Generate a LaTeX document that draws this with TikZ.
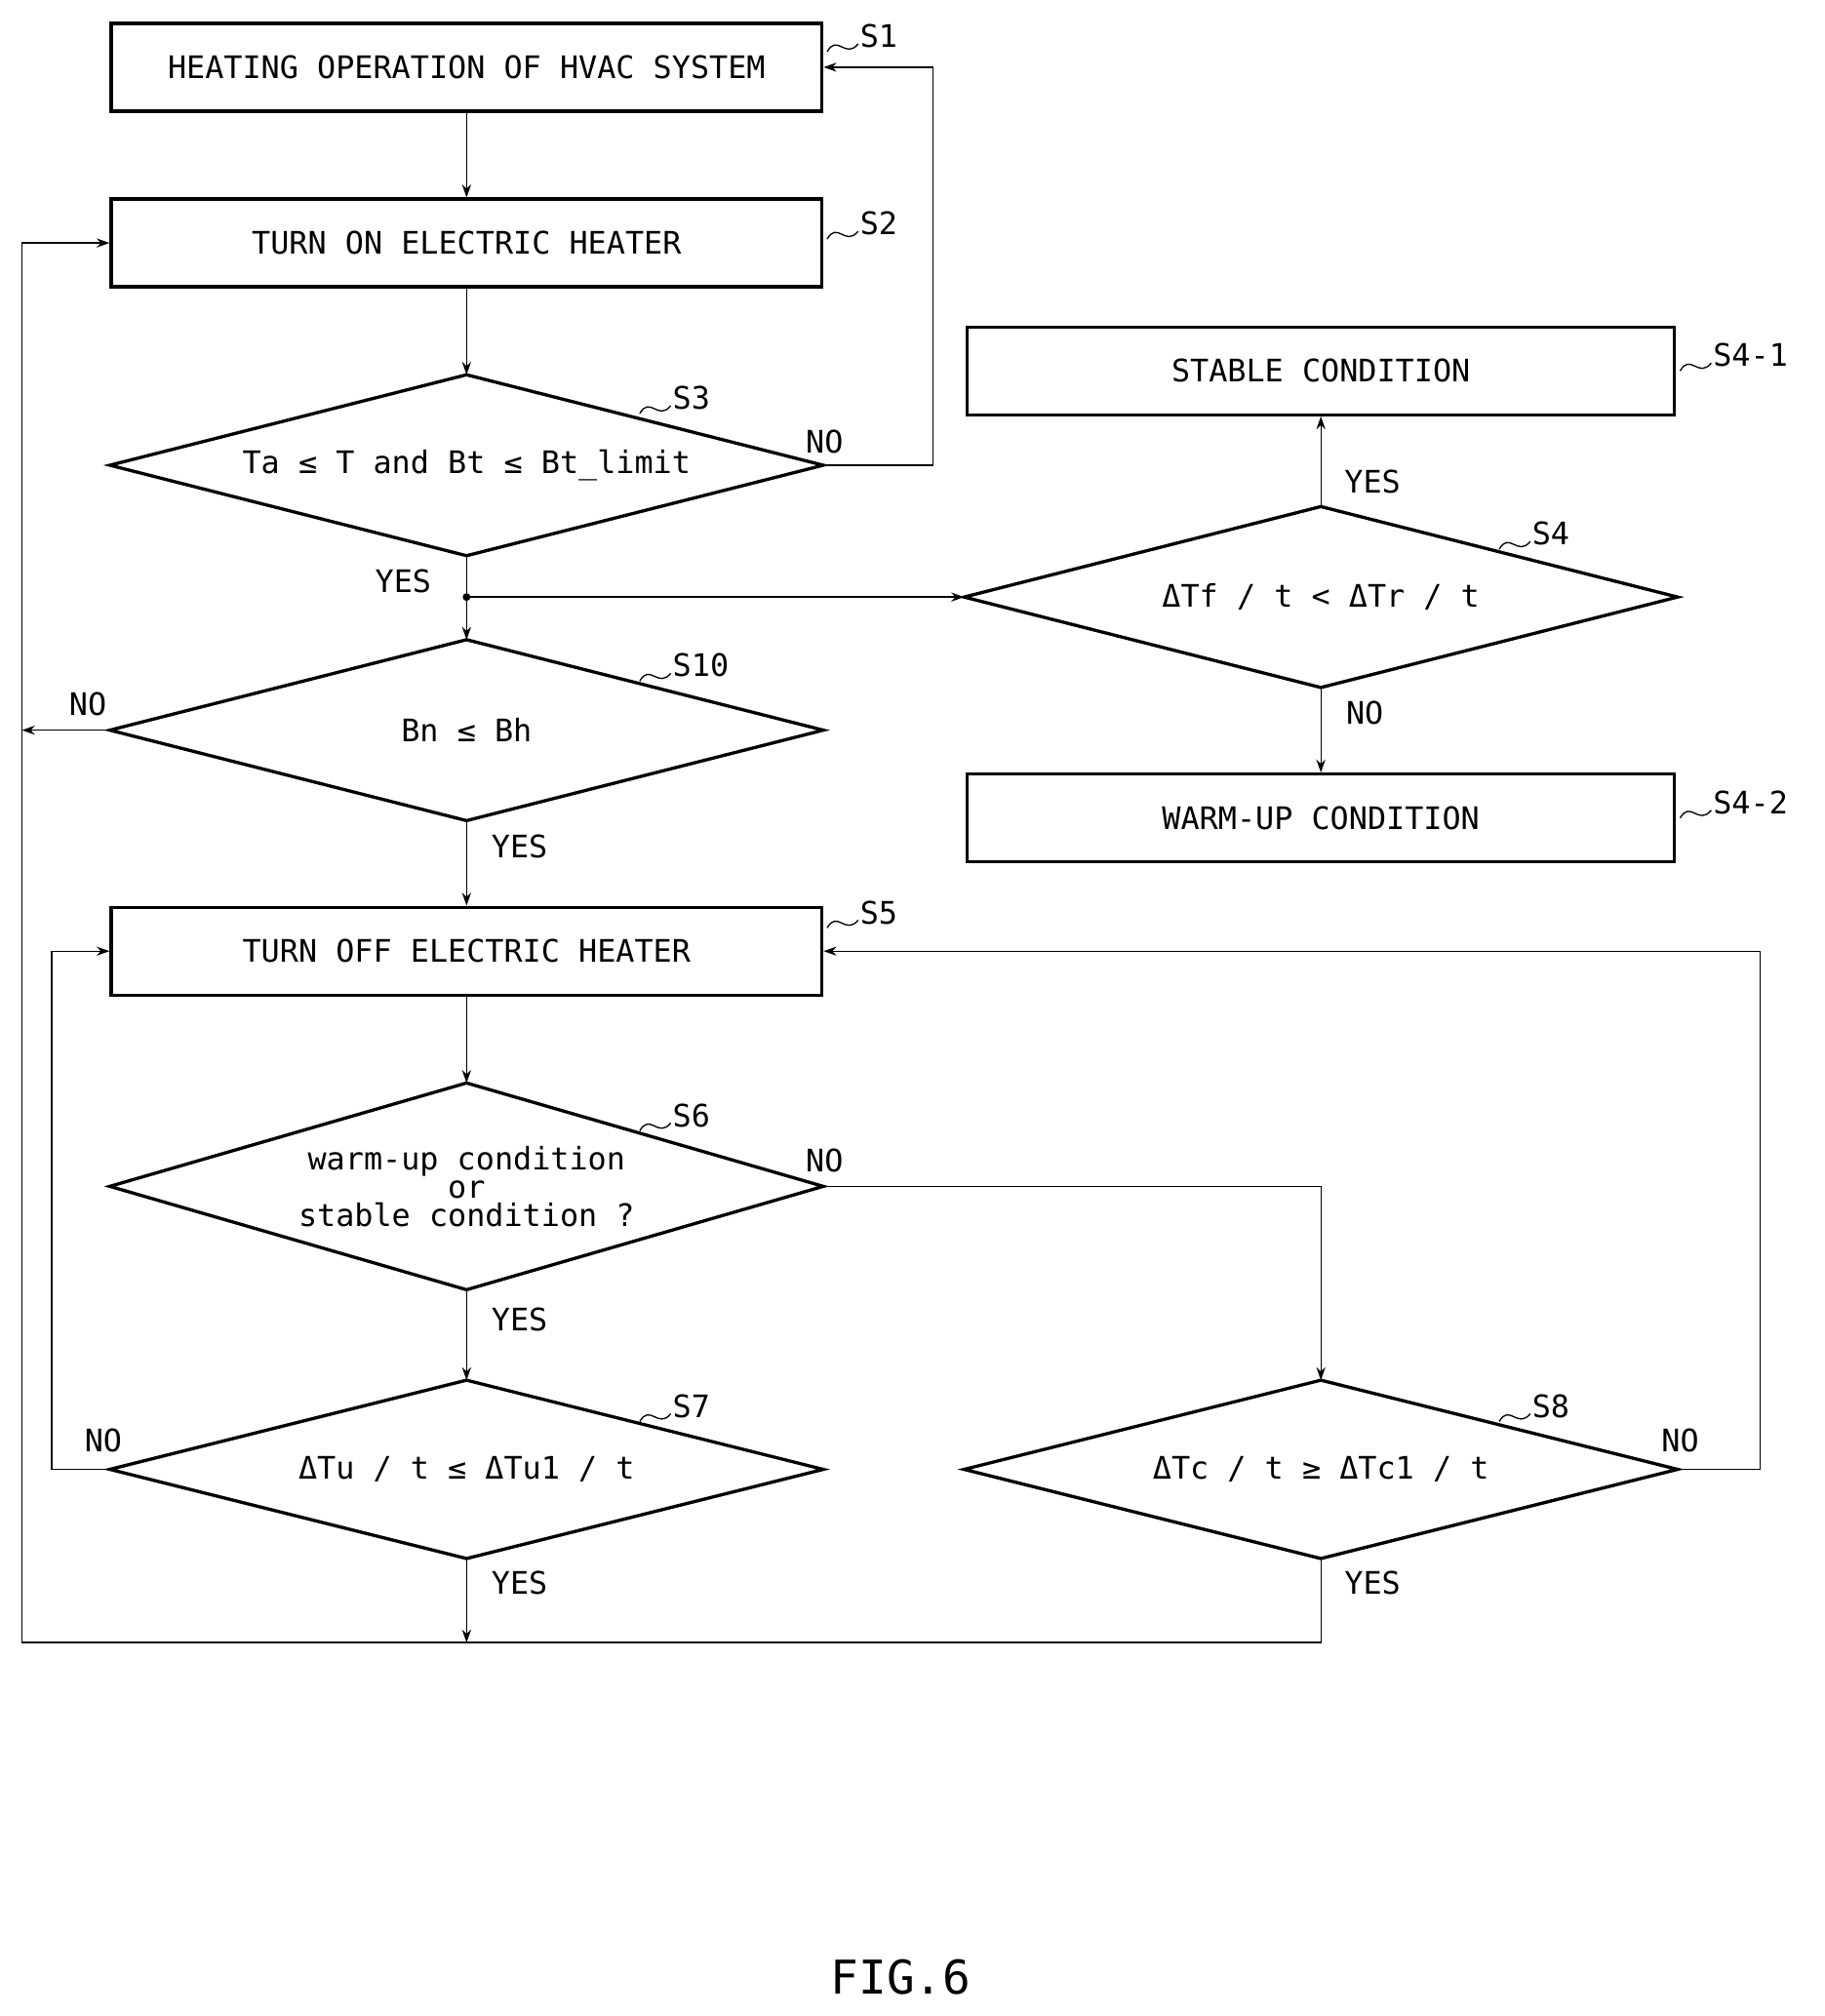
\documentclass[tikz,border=0pt]{standalone}
\usepackage{fontspec}
\setmainfont{DejaVu Sans Mono}
\usetikzlibrary{arrows.meta}
\begin{document}
\begin{tikzpicture}[x=1pt,y=-1pt,font=\fontsize{24}{26}\selectfont,
 box/.style={draw,line width=2.5pt,minimum width=550pt,minimum height=68pt,inner sep=0},
 dia/.style={draw,line width=2.5pt},
 ln/.style={line width=1pt},
 ar/.style={ln,-{Stealth[length=10pt,width=7pt]}},
 lab/.style={font=\fontsize{24}{26}\selectfont}]
\useasboundingbox (0,0) rectangle (1412,1560);
\newcommand\dmd[4]{% name, cx, cy, halfheight
 \draw[dia] (#2-276,#3) -- (#2,#3-#4) -- (#2+276,#3) -- (#2,#3+#4) -- cycle;
 \coordinate (#1L) at (#2-276,#3); \coordinate (#1R) at (#2+276,#3);
 \coordinate (#1T) at (#2,#3-#4); \coordinate (#1B) at (#2,#3+#4);}
\newcommand\sq[3]{\draw[ln] (#1,#2) .. controls (#1+8,#2-14) and (#1+14,#2+6) .. (#1+24,#2-6); \node[anchor=west,lab] at (#1+22,#2-12) {#3};}
\node[box] (s1) at (361,52) {HEATING OPERATION OF HVAC SYSTEM};
\node[box] (s2) at (361,188) {TURN ON ELECTRIC HEATER};
\node[box] (s5) at (361,736) {TURN OFF ELECTRIC HEATER};
\node[box,minimum width=547pt] (s41) at (1022,287) {STABLE CONDITION};
\node[box,minimum width=547pt] (s42) at (1022,633) {WARM-UP CONDITION};
\dmd{s3}{361}{360}{70} \node at (361,360) {Ta ≤ T and Bt ≤ Bt\_limit};
\dmd{s10}{361}{565}{70} \node at (361,565) {Bn ≤ Bh};
\dmd{s6}{361}{918}{80} \node[align=center] at (361,918) {warm-up condition\\[-4pt]or\\[-4pt]stable condition ?};
\dmd{s7}{361}{1137}{69} \node at (361,1137) {ΔTu / t ≤ ΔTu1 / t};
\dmd{s4}{1022}{462}{70} \node at (1022,462) {ΔTf / t < ΔTr / t};
\dmd{s8}{1022}{1137}{69} \node at (1022,1137) {ΔTc / t ≥ ΔTc1 / t};
\sq{640}{40}{S1} \sq{640}{185}{S2} \sq{495}{320}{S3} \sq{1300}{287}{S4-1} \sq{1160}{425}{S4}
\sq{495}{527}{S10} \sq{1300}{633}{S4-2} \sq{640}{718}{S5} \sq{495}{875}{S6} \sq{495}{1100}{S7} \sq{1160}{1100}{S8}
\coordinate (j) at (361,462);
\draw[ar] (s1) -- (s2);
\draw[ar] (s2) -- (s3T);
\draw[ln] (s3B) -- (j); \fill (j) circle (3pt);
\draw[ar] (j) -- (s10T);
\draw[ar] (j) -- (s4L);
\draw[ar] (s4T) -- (s41); \draw[ar] (s4B) -- (s42);
\draw[ar] (s3R) -- (722,360) -- (722,52) -- (s1.east);
\coordinate (l10) at (17,565);
\draw[ar] (s10L) -- (l10);
\draw[ar] (s10B) -- (s5);
\draw[ar] (s5) -- (s6T);
\draw[ar] (s6B) -- (s7T);
\draw[ar] (s6R) -- (1022,918) -- (s8T);
\draw[ar] (s7L) -- (40,1137) -- (40,736) -- (s5.west);
\draw[ar] (s8R) -- (1362,1137) -- (1362,736) -- (s5.east);
\coordinate (bj) at (361,1271);
\draw[ar] (s7B) -- (bj);
\draw[ln] (s8B) -- (1022,1271) -- (bj);
\draw[ar] (bj) -- (17,1271) -- (17,188) -- (s2.west);
\node at (638,342) {NO}; \node at (312,450) {YES}; \node at (68,545) {NO}; \node at (402,655) {YES};
\node at (1062,373) {YES}; \node at (1056,552) {NO}; \node at (638,898) {NO}; \node at (402,1021) {YES};
\node at (80,1115) {NO}; \node at (1300,1115) {NO}; \node at (402,1225) {YES}; \node at (1062,1225) {YES};
\node[font=\fontsize{36}{40}\selectfont] at (697,1530) {FIG.6};
\end{tikzpicture}
\end{document}
